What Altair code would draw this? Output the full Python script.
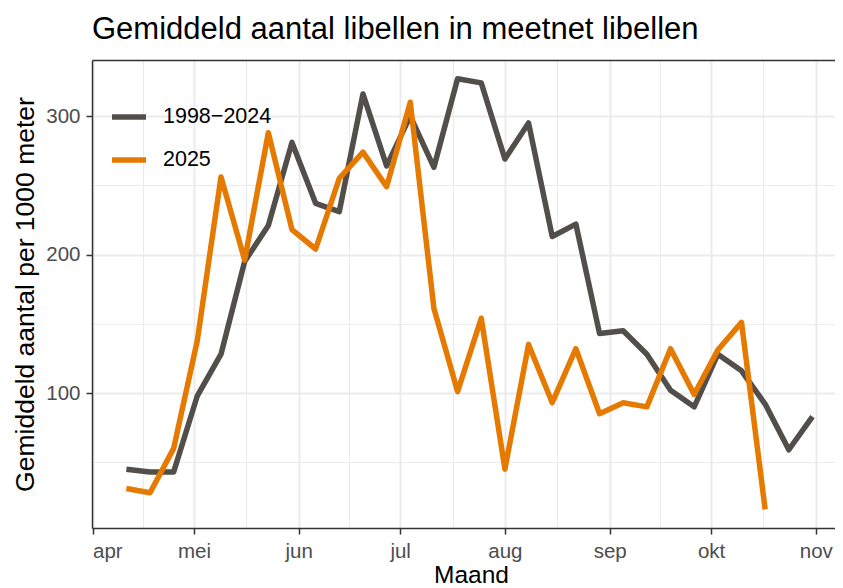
import altair as alt
import pandas as pd

# ---- data ----
dates = ["2025-04-11", "2025-04-18", "2025-04-25", "2025-05-02", "2025-05-09",
         "2025-05-16", "2025-05-23", "2025-05-30", "2025-06-06", "2025-06-13",
         "2025-06-20", "2025-06-27", "2025-07-04", "2025-07-11", "2025-07-18",
         "2025-07-25", "2025-08-01", "2025-08-08", "2025-08-15", "2025-08-22",
         "2025-08-29", "2025-09-05", "2025-09-12", "2025-09-19", "2025-09-26",
         "2025-10-03", "2025-10-10", "2025-10-17", "2025-10-24", "2025-10-31"]
hist_values = [45, 43, 43, 98, 128, 195, 221, 281, 237, 231,
               316, 264, 300, 263, 327, 324, 269, 295, 213, 222,
               143, 145, 128, 102, 90, 128, 116, 92, 59, 83]
cur_values = [31, 28, 60, 138, 256, 196, 288, 218, 204, 255,
              274, 249, 310, 161, 101, 154, 45, 135, 93, 132,
              85, 93, 90, 132, 99, 131, 151, 16]
series = ["1998\u22122024", "2025"]
colors = ["#524E4A", "#E67A00"]
month_labels = ["jan", "feb", "mrt", "apr", "mei", "jun", "jul", "aug", "sep", "okt", "nov", "dec"]
y_ticks = [100, 200, 300]
y_minor = [50, 150, 250]

rows = []
for d, v in zip(dates, hist_values):
    rows.append({"datum": d, "waarde": v, "reeks": series[0]})
for d, v in zip(dates, cur_values):
    rows.append({"datum": d, "waarde": v, "reeks": series[1]})
df = pd.DataFrame(rows)

FONT = "Liberation Sans"

def dt(m, d, h=0):
    return alt.DateTime(year=2025, month=m, date=d, hours=h, utc=True)

month_ticks = [dt(m, 1) for m in range(4, 12)]
minor_x = [dt(4, 16), dt(5, 16, 12), dt(6, 16), dt(7, 16, 12), dt(8, 16, 12),
           dt(9, 16), dt(10, 16, 12)]

xscale = alt.Scale(type="utc", domain=[dt(3, 31, 20), dt(11, 6, 16)])
yscale = alt.Scale(domain=[2.5, 340.5], nice=False, zero=False)

label_expr = "[" + ",".join("'%s'" % m for m in month_labels) + "][utcmonth(datum.value)]"

minor = alt.Chart(df).mark_line(opacity=0).encode(
    x=alt.X("datum:T", scale=xscale,
            axis=alt.Axis(orient="top", values=minor_x, grid=True, gridColor="#EBEBEB",
                          gridWidth=1, labels=False, ticks=False, domain=True,
                          domainColor="#333333", domainWidth=1.5, title=None)),
    y=alt.Y("waarde:Q", scale=yscale,
            axis=alt.Axis(orient="right", values=y_minor, grid=True, gridColor="#EBEBEB",
                          gridWidth=1, labels=False, ticks=False, domain=False, title=None)),
    detail="reeks:N",
)

lines = alt.Chart(df).mark_line(strokeWidth=5.5, strokeJoin="round", strokeCap="butt").encode(
    x=alt.X("datum:T", scale=xscale, title="Maand",
            axis=alt.Axis(orient="bottom", values=month_ticks, labelExpr=label_expr,
                          grid=True, gridColor="#EBEBEB", gridWidth=2,
                          tickColor="#333333", tickSize=6, tickWidth=1.5,
                          domainColor="#333333", domainWidth=1.5,
                          labelFont=FONT, labelFontSize=20.5, labelColor="#4D4D4D",
                          labelPadding=7, titleFont=FONT, titleFontSize=24.5,
                          titleFontWeight="normal", titleColor="#000000",
                          titlePadding=2, titleX=379)),
    y=alt.Y("waarde:Q", scale=yscale, title="Gemiddeld aantal per 1000 meter",
            axis=alt.Axis(orient="left", values=y_ticks, grid=True, gridColor="#EBEBEB",
                          gridWidth=2, tickColor="#333333", tickSize=6, tickWidth=1.5,
                          domainColor="#333333", domainWidth=1.5,
                          labelFont=FONT, labelFontSize=20.5, labelColor="#4D4D4D",
                          labelPadding=6, titleFont=FONT, titleFontSize=26.5,
                          titleFontWeight="normal", titleColor="#000000",
                          titlePadding=6)),
    color=alt.Color("reeks:N", scale=alt.Scale(domain=series, range=colors),
                    legend=alt.Legend(title=None, orient="none", legendX=17, legendY=37,
                                      symbolType="stroke", symbolSize=1156,
                                      symbolStrokeWidth=5.5, labelFont=FONT,
                                      labelFontSize=21.5, labelColor="#000000",
                                      labelOffset=14, rowPadding=12, padding=0)),
)

chart = alt.layer(minor, lines).resolve_axis(x="independent", y="independent").properties(
    width=743, height=468,
    autosize=alt.AutoSizeParams(type="none"),
    padding={"left": 84, "top": 52, "right": 0, "bottom": 60},
    title=alt.Title("Gemiddeld aantal libellen in meetnet libellen", anchor="start",
                    frame="group", font=FONT, fontSize=31, fontWeight="normal",
                    color="#000000", baseline="alphabetic", offset=-10),
).configure_view(strokeOpacity=0, strokeWidth=0)

chart.save("out.html", embed_options={"renderer": "svg", "actions": False})
